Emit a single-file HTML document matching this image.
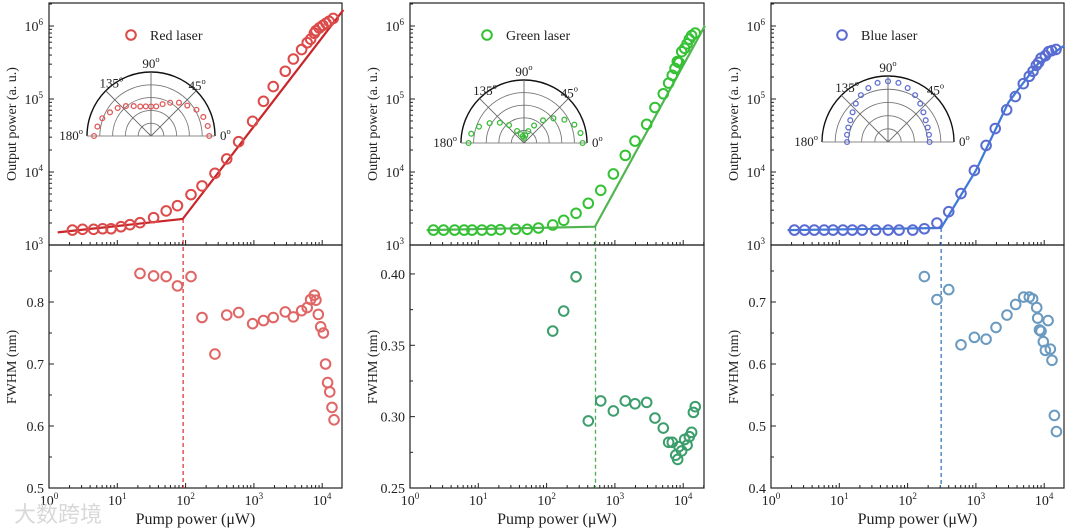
<!DOCTYPE html>
<html><head><meta charset="utf-8">
<style>
html,body{margin:0;padding:0;background:#fff;}
svg{display:block;font-family:"Liberation Serif",serif;}
</style></head>
<body>
<svg id="fig" width="1071" height="531" viewBox="0 0 1071 531" xmlns="http://www.w3.org/2000/svg"></svg>
<script>
// ---------- Data ----------
const redPump = [2.2,3.1,4.5,6.1,8.1,11.3,15.3,21.5,34,52,76,120,174,269,400,598,958,1380,1920,2880,3780,5000,6030,6770,7670,8100,9060,10200,11400,12600,14500];
const redOut = [1600,1640,1640,1670,1670,1780,1900,2020,2370,2930,3460,4900,6450,9600,15100,26000,49400,93000,148000,240000,353000,476000,590000,660000,796000,863000,940000,1020000,1090000,1160000,1270000];
const redFitPump = [1.34,90.6,20400];
const redFitOut = [1490,2270,1660000];
const redFwhmPump = [21.5,34,52,76,120,174,269,400,598,958,1380,1920,2880,3780,5000,6030,6770,7670,8100,8770,9500,10400,11200,12000,12900,13900,14900];
const redFwhm = [0.846,0.842,0.841,0.826,0.841,0.775,0.716,0.779,0.783,0.765,0.770,0.775,0.784,0.776,0.786,0.791,0.804,0.811,0.803,0.780,0.760,0.750,0.700,0.670,0.655,0.630,0.610];
const redThreshold = 92;

const greenPump = [2.2,3.1,4.5,6.2,8.1,11.3,15.5,21,35,52,76,123,178,270,408,620,950,1420,1970,2920,3860,5110,6120,6920,7590,8200,8670,9500,10500,11400,12300,13300,15000];
const greenOut = [1600,1600,1600,1600,1600,1600,1600,1620,1640,1640,1710,1880,2180,2720,3720,5610,9400,16900,26500,45000,76500,118000,165000,211000,262000,326000,316000,445000,495000,570000,660000,740000,800000];
const greenFitPump = [1.75,510,20800];
const greenFitOut = [1600,1780,1010000];
const greenFwhmPump = [123,178,270,408,620,950,1420,1970,2920,3860,5110,6120,6920,7770,8300,8670,9500,10500,11400,12300,13300,14100,15000];
const greenFwhm = [0.360,0.374,0.398,0.297,0.311,0.304,0.311,0.309,0.310,0.299,0.292,0.282,0.282,0.273,0.270,0.279,0.276,0.284,0.280,0.286,0.289,0.303,0.307];
const greenThreshold = 520;

const bluePump = [2.2,3.1,4.3,6,8.1,11.3,15.5,21.7,34,52,75,119,176,269,400,605,950,1410,1920,2820,3780,4940,6050,6850,7670,8300,8980,10400,11600,12900,14900];
const blueOut = [1600,1600,1600,1600,1600,1600,1600,1600,1600,1600,1600,1600,1670,2000,2860,5070,10500,23100,39400,71000,108000,162000,205000,240000,289000,317000,362000,393000,445000,459000,478000];
const blueFitPump = [1.75,309,1000,3000,8000,19700];
const blueFitOut = [1600,1710,10500,90000,300000,540000];
const blueFwhmPump = [176,269,400,605,950,1410,1970,2850,3820,5010,6050,6770,7770,8030,8520,8980,9700,10400,11400,12300,13000,14100,15100];
const blueFwhm = [0.741,0.704,0.720,0.631,0.643,0.640,0.659,0.679,0.696,0.708,0.708,0.705,0.691,0.674,0.655,0.653,0.636,0.622,0.670,0.624,0.606,0.517,0.491];
const blueThreshold = 310;

const polarAngles = [0,10,20,30,40,50,60,70,80,90,100,110,120,130,140,150,160,170,180];
const redPolar = [0.91,0.90,0.87,0.82,0.74,0.68,0.60,0.53,0.47,0.46,0.47,0.49,0.54,0.61,0.68,0.74,0.81,0.85,0.89];
const greenPolar = [0.93,0.91,0.85,0.74,0.61,0.47,0.32,0.20,0.12,0.08,0.11,0.15,0.22,0.37,0.50,0.63,0.76,0.85,0.88];
const bluePolar = [0.63,0.63,0.64,0.66,0.70,0.76,0.82,0.87,0.91,0.92,0.91,0.87,0.82,0.76,0.70,0.66,0.64,0.63,0.62];

const xTickExp = [0,1,2,3,4];
const yTopTickExp = [3,4,5,6];
const redFwhmTicks = ["0.5","0.6","0.7","0.8"];
const greenFwhmTicks = ["0.25","0.30","0.35","0.40"];
const blueFwhmTicks = ["0.4","0.5","0.6","0.7"];

// ---------- Drawing ----------
const NS = "http://www.w3.org/2000/svg";
const svg = document.getElementById('fig');
function mk(tag, attrs, parent, text){
  const e = document.createElementNS(NS, tag);
  for (const k in attrs) e.setAttribute(k, attrs[k]);
  if (text !== undefined) e.textContent = text;
  (parent || svg).appendChild(e);
  return e;
}
function sup(parent, x, y, base, exp, anchor, size){
  const t = mk('text', {x:x, y:y, 'font-size':size||14, 'text-anchor':anchor||'middle', fill:'#222'}, parent);
  const b = document.createElementNS(NS,'tspan'); b.textContent = base; t.appendChild(b);
  const s = document.createElementNS(NS,'tspan'); s.setAttribute('dy','-6'); s.setAttribute('font-size', (size||14)*0.65); s.textContent = exp; t.appendChild(s);
  return t;
}

const TOP=3, MID=245, BOT=488, DEC=68.3;
const panels = [
  {key:'red', L:49, R:342, name:'Red laser', pump:redPump, out:redOut, fitP:redFitPump, fitO:redFitOut,
   fP:redFwhmPump, f:redFwhm, thr:redThreshold, polar:redPolar, fTicks:redFwhmTicks, fmin:0.5, fstep:0.1, fpx:620,
   mc:'#dc4a4a', lc:'#c8262a', bc:'#e06666', dc:'#e03a3a', pc:'#e05a5a', pcx:151, pcy:136, pr:64, legX:131},
  {key:'green', L:410, R:704, name:'Green laser', pump:greenPump, out:greenOut, fitP:greenFitPump, fitO:greenFitOut,
   fP:greenFwhmPump, f:greenFwhm, thr:greenThreshold, polar:greenPolar, fTicks:greenFwhmTicks, fmin:0.25, fstep:0.05, fpx:1427,
   mc:'#34c234', lc:'#52b552', bc:'#3c9e6c', dc:'#4cb050', pc:'#3cbb3c', pcx:524, pcy:143, pr:63, legX:487},
  {key:'blue', L:771, R:1064, name:'Blue laser', pump:bluePump, out:blueOut, fitP:blueFitPump, fitO:blueFitOut,
   fP:blueFwhmPump, f:blueFwhm, thr:blueThreshold, polar:bluePolar, fTicks:blueFwhmTicks, fmin:0.4, fstep:0.1, fpx:620,
   mc:'#5a6cd2', lc:'#3d7ad8', bc:'#6a9ac0', dc:'#3a78c0', pc:'#6070d0', pcx:888, pcy:142, pr:66, legX:842}
];

panels.forEach(p => {
  const g = mk('g', {});
  
  
  const xs = v => p.L + Math.log10(v) * DEC;
  const yTop = v => MID - (Math.log10(v) - 3) * 73;
  const yBot = v => BOT - (v - p.fmin) * p.fpx;

  // frames
  const fr1 = mk('rect', {x:p.L, y:TOP, width:p.R-p.L, height:MID-TOP, fill:'none', stroke:'#222', 'stroke-width':1.2}, g);
   
  const fr2 = mk('rect', {x:p.L, y:MID, width:p.R-p.L, height:BOT-MID, fill:'none', stroke:'#222', 'stroke-width':1.2}, g);
   

  // x ticks (bottom axis and middle axis)
  const xt = mk('g', {stroke:'#222', 'stroke-width':1}, g);
   
  for (let d=0; d<=4; d++){
    for (let m=1; m<=9; m++){
      const v = Math.pow(10,d)*m; const x = xs(v);
      if (x > p.R) continue;
      const len = m===1 ? 5 : 3;
      mk('line', {x1:x, y1:BOT, x2:x, y2:BOT-len}, xt);
      mk('line', {x1:x, y1:MID, x2:x, y2:MID-len}, xt);
    }
  }
  xTickExp.forEach(e => {
    const t = sup(g, xs(Math.pow(10,e)), 505, '10', String(e), 'middle', 14);
     
  });
  const xl = mk('text', {x:(p.L+p.R)/2, y:524, 'font-size':16, 'text-anchor':'middle', fill:'#222'}, g, 'Pump power (\u03bcW)');
   

  // top y ticks
  for (let d=3; d<=6; d++){
    for (let m=1; m<=9; m++){
      const y = yTop(Math.pow(10,d)*m);
      if (y < TOP) continue;
      const len = m===1 ? 5 : 3;
      mk('line', {x1:p.L, y1:y, x2:p.L+len, y2:y, stroke:'#222'}, g);
    }
  }
  yTopTickExp.forEach(e => {
    const t = sup(g, p.L-6, yTop(Math.pow(10,e))+5, '10', String(e), 'end', 14);
     
  });
  const yl1 = mk('text', {x:0, y:0, 'font-size':14, 'text-anchor':'middle', fill:'#222', transform:`translate(${p.L-33},124) rotate(-90)`}, g, 'Output power (a. u.)');
   

  // bottom y ticks
  p.fTicks.forEach((lab,i) => {
    const v = p.fmin + i*p.fstep; const y = yBot(v);
    mk('line', {x1:p.L, y1:y, x2:p.L+5, y2:y, stroke:'#222'}, g);
    const ym = yBot(v + p.fstep/2);
    if (ym > MID) mk('line', {x1:p.L, y1:ym, x2:p.L+3, y2:ym, stroke:'#222'}, g);
    const t = mk('text', {x:p.L-5, y:y+5, 'font-size':14, 'text-anchor':'end', fill:'#222'}, g, lab);
     
  });
  const yl2 = mk('text', {x:0, y:0, 'font-size':14, 'text-anchor':'middle', fill:'#222', transform:`translate(${p.L-33},367) rotate(-90)`}, g, 'FWHM (nm)');
   

  // threshold dashed line
  const th = mk('line', {x1:xs(p.thr), y1:yTop(p.fitO[p.fitO.length>3?1:1]), x2:xs(p.thr), y2:BOT, stroke:p.dc, 'stroke-width':1.3, 'stroke-dasharray':'4,3'}, g);
   

  // fit line
  const fit = mk('polyline', {points:p.fitP.map((v,i)=>xs(v)+','+yTop(p.fitO[i])).join(' '), fill:'none', stroke:p.lc, 'stroke-width':2.2}, g);
   

  // output points
  p.pump.forEach((v,i) => {
    const c = mk('circle', {cx:xs(v), cy:yTop(p.out[i]), r:4.8, fill:'none', stroke:p.mc, 'stroke-width':2}, g);
     
  });
  // fwhm points
  p.fP.forEach((v,i) => {
    const c = mk('circle', {cx:xs(v), cy:yBot(p.f[i]), r:4.8, fill:'none', stroke:p.bc, 'stroke-width':2}, g);
     
  });

  // legend
  const lg = mk('g', {}, g);
   
  mk('circle', {cx:p.legX, cy:35, r:4.8, fill:'none', stroke:p.mc, 'stroke-width':2}, lg);
  mk('text', {x:p.legX+19, y:40, 'font-size':14, fill:'#222'}, lg, p.name);

  // polar inset
  const pg = mk('g', {}, g);
   
  const cx=p.pcx, cy=p.pcy, R=p.pr;
  [0.2,0.4,0.6,0.8].forEach(f => {
    mk('path', {d:`M${cx-R*f},${cy} A${R*f},${R*f} 0 0 1 ${cx+R*f},${cy}`, fill:'none', stroke:'#777', 'stroke-width':0.9}, pg);
  });
  mk('path', {d:`M${cx-R},${cy} A${R},${R} 0 0 1 ${cx+R},${cy}`, fill:'none', stroke:'#111', 'stroke-width':1.4}, pg);
  mk('line', {x1:cx-R, y1:cy, x2:cx+R, y2:cy, stroke:'#888', 'stroke-width':1}, pg);
  [45,90,135].forEach(a => {
    const r = a*Math.PI/180;
    mk('line', {x1:cx, y1:cy, x2:cx+R*Math.cos(r), y2:cy-R*Math.sin(r), stroke:'#666', 'stroke-width':0.9}, pg);
  });
  polarAngles.forEach((a,i) => {
    const r = a*Math.PI/180, v = p.polar[i]*R;
    const c = mk('circle', {cx:cx+v*Math.cos(r), cy:cy-v*Math.sin(r), r:2.4, fill:'none', stroke:p.pc, 'stroke-width':1.3}, pg);
     
  });
  sup(pg, cx, cy-R-4, '90', 'o', 'middle', 13);
  sup(pg, cx-R*0.62, cy-R*0.76, '135', 'o', 'middle', 13);
  sup(pg, cx+R*0.72, cy-R*0.72, '45', 'o', 'middle', 13);
  sup(pg, cx-R-4, cy+4, '180', 'o', 'end', 13);
  sup(pg, cx+R+5, cy+4, '0', 'o', 'start', 13);
});

const wm = mk('text', {x:14, y:522, 'font-size':22, fill:'#d8d8d8', 'font-family':'"Liberation Sans","Noto Sans CJK SC",sans-serif'}, svg, '\u5927\u6570\u8de8\u5883');
 
</script>
</body></html>
